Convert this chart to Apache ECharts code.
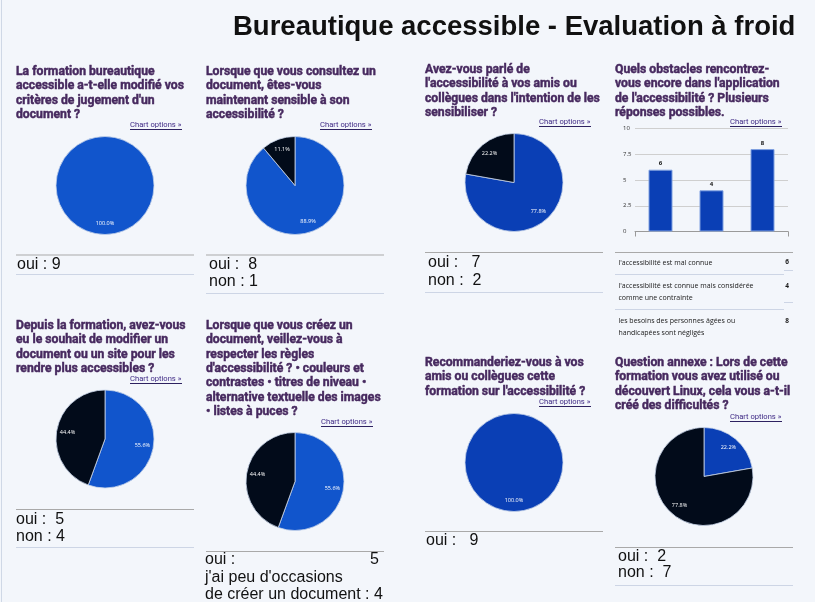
<!DOCTYPE html>
<html>
<head>
<meta charset="utf-8">
<script src="https://cdn.jsdelivr.net/npm/echarts@6/dist/echarts.min.js"></script>
<style>
  html, body { margin: 0; padding: 0; background: #f3f6fb; }
  #chart { width: 815px; height: 602px; }
</style>
</head>
<body>
<div id="chart"></div>
<script>
// ---- data ----
const pageTitle = 'Bureautique accessible - Evaluation à froid';

const questions = [
  "La formation bureautique\naccessible a-t-elle modifié vos\ncritères de jugement d'un\ndocument ?",
  "Lorsque que vous consultez un\ndocument, êtes-vous\nmaintenant sensible à son\naccessibilité ?",
  "Avez-vous parlé de\nl'accessibilité à vos amis ou\ncollègues dans l'intention de les\nsensibiliser ?",
  "Quels obstacles rencontrez-\nvous encore dans l'application\nde l'accessibilité ? Plusieurs\nréponses possibles.",
  "Depuis la formation, avez-vous\neu le souhait de modifier un\ndocument ou un site pour les\nrendre plus accessibles ?",
  "Lorsque que vous créez un\ndocument, veillez-vous à\nrespecter les règles\nd'accessibilité ? • couleurs et\ncontrastes • titres de niveau •\nalternative textuelle des images\n• listes à puces ?",
  "Recommanderiez-vous à vos\namis ou collègues cette\nformation sur l'accessibilité ?",
  "Question annexe : Lors de cette\nformation vous avez utilisé ou\ndécouvert Linux, cela vous a-t-il\ncréé des difficultés ?"
];

const ouiNon = ['oui', 'non'];
const creationNames = ['oui', "j'ai peu d'occasions\nde créer un document"];

const formationCounts = [9];
const consultCounts = [8, 1];
const parleCounts = [7, 2];
const souhaitCounts = [5, 4];
const creationCounts = [5, 4];
const recommandCounts = [9];
const linuxCounts = [2, 7];

const obstacleCategories = [
  "l'accessibilité est mal connue",
  "l'accessibilité est connue mais considérée comme une contrainte",
  "les besoins des personnes âgées ou handicapées sont négligés"
];
const obstacleCounts = [6, 4, 8];
const yTicks = [0, 2.5, 5, 7.5, 10];

// ---- layout ----
const BLUE = '#1155cc';
const BLUE_DARK = '#0a3fb5';
const BLACK = '#020b1a';
const R = 49;

const panels = [
  { q: 0, counts: formationCounts, names: ouiNon, colors: [BLUE, BLACK], center: [105, 185.5],
    qx: 16, qy: 72, link: [130, 125], rule: [16, 194, 254.5, 274], sx: 17, sy: [265], pads: [1] },
  { q: 1, counts: consultCounts, names: ouiNon, colors: [BLUE, BLACK], center: [295, 185.5],
    qx: 206, qy: 72, link: [320, 125], rule: [206, 384, 254.5, 293], sx: 209, sy: [265, 282], pads: [2, 1] },
  { q: 2, counts: parleCounts, names: ouiNon, colors: [BLUE_DARK, BLACK], center: [514, 182.5],
    qx: 425, qy: 70, link: [539, 122], rule: [425, 603, 252, 292], sx: 428, sy: [263, 281], pads: [3, 2] },
  { q: 4, counts: souhaitCounts, names: ouiNon, colors: [BLUE, BLACK], center: [105, 439],
    qx: 16, qy: 326, link: [130, 379], rule: [16, 194, 509, 547], sx: 16, sy: [520, 537], pads: [2, 1] },
  { q: 5, counts: creationCounts, names: creationNames, colors: [BLUE, BLACK], center: [295, 481.5],
    qx: 206, qy: 326, link: [321, 422], rule: [206, 384, 551, null], sx: 205, sy: [560, 578], pads: null },
  { q: 6, counts: recommandCounts, names: ouiNon, colors: [BLUE_DARK, BLACK], center: [514, 462.5],
    qx: 425, qy: 363, link: [539, 402], rule: [425, 603, 531, null], sx: 426, sy: [541], pads: [3] },
  { q: 7, counts: linuxCounts, names: ouiNon, colors: [BLUE_DARK, BLACK], center: [704, 476.5],
    qx: 615, qy: 363, link: [730, 417], rule: [615, 793, 547, 585], sx: 618, sy: [557, 573], pads: [2, 2] }
];
const barPanel = { q: 3, qx: 615, qy: 70, link: [730, 122] };

const graphics = [];
function addText(str, x, y, style) {
  graphics.push({ type: 'text', silent: true, style: Object.assign({ text: str, x: x, y: y }, style) });
}
function addLine(x1, y1, x2, y2, stroke, w) {
  graphics.push({ type: 'line', silent: true, shape: { x1: x1, y1: y1, x2: x2, y2: y2 },
    style: { stroke: stroke, lineWidth: w || 1 } });
}

const questionStyle = { fill: '#46295f', stroke: '#4a2a5e', lineWidth: 0.45, fontSize: 12.2,
  fontWeight: 'bold', fontFamily: 'Roboto', lineHeight: 14.3, verticalAlign: 'top' };
const summaryStyle = { fill: '#111', fontSize: 16, fontFamily: 'Liberation Sans', verticalAlign: 'middle' };
const linkStyle = { fill: '#3f2a85', fontSize: 7.6, fontFamily: 'Roboto', verticalAlign: 'middle' };

// title + page border
addText(pageTitle, 233, 27, { fill: '#111', fontSize: 27.5, fontWeight: 'bold',
  fontFamily: 'Liberation Sans', verticalAlign: 'middle' });
addLine(1.5, 0, 1.5, 602, '#cfd8e6', 1);

function addHeader(p) {
  addText(questions[p.q], p.qx, p.qy - 7.15, questionStyle);
  addText('Chart options »', p.link[0], p.link[1], linkStyle);
  addLine(p.link[0], p.link[1] + 4.5, p.link[0] + 52, p.link[1] + 4.5, '#2d2160', 1);
}

const series = [];
panels.forEach(function (p) {
  addHeader(p);
  const data = p.counts.map(function (v, i) {
    return { name: p.names[i], value: v, itemStyle: { color: p.colors[i] } };
  });
  series.push({
    type: 'pie', center: p.center, radius: [0, R], startAngle: 90, clockwise: true,
    silent: true, label: { show: false }, labelLine: { show: false },
    itemStyle: { borderColor: '#c9d5ea', borderWidth: 0.8 },
    data: data
  });
  series.push({
    type: 'pie', center: p.center, radius: [21, R], startAngle: 90, clockwise: true,
    silent: true, itemStyle: { color: 'transparent', borderWidth: 0 },
    label: { show: true, position: 'inside', color: '#fff', fontSize: 5.5, fontFamily: 'Open Sans',
      formatter: function (d) { return d.percent.toFixed(1) + '%'; } },
    labelLine: { show: false },
    data: p.counts.map(function (v, i) { return { name: p.names[i], value: v }; })
  });
  if (p.counts.length === 1) {
    addLine(p.center[0], p.center[1], p.center[0], p.center[1] - R, '#9db6e4', 1);
  }
  // summary block
  addLine(p.rule[0], p.rule[2] + 0.5, p.rule[1], p.rule[2] + 0.5, '#a9a9a9', 1);
  if (p.rule[3]) addLine(p.rule[0], p.rule[3] + 0.5, p.rule[1], p.rule[3] + 0.5, '#cdd5e5', 1);
  if (p.pads) {
    p.counts.forEach(function (v, i) {
      addText(p.names[i] + ' :' + ' '.repeat(p.pads[i]) + v, p.sx, p.sy[i], summaryStyle);
    });
  } else {
    addText(p.names[0] + ' :', p.sx, p.sy[0], summaryStyle);
    addText(String(p.counts[0]), 379, p.sy[0], Object.assign({ align: 'right' }, summaryStyle));
    addText(p.names[1] + ' : ' + p.counts[1], p.sx, p.sy[1],
      Object.assign({}, summaryStyle, { lineHeight: 16.5, verticalAlign: 'top', y: p.sy[1] - 8.5 }));
  }
});

// bar panel header + table
addHeader(barPanel);
const rowY = [262.5, 286, 321];
addLine(615, 252.5, 793, 252.5, '#a9a9a9', 1);
addLine(615, 274.5, 784, 274.5, '#cdd5e5', 1);
addLine(784, 270.5, 793, 270.5, '#cdd5e5', 1);
addLine(615, 309.5, 784, 309.5, '#cdd5e5', 1);
addLine(784, 302.5, 793, 302.5, '#cdd5e5', 1);
obstacleCategories.forEach(function (c, i) {
  addText(c, 618.5, rowY[i] - 6, { fill: '#1a1a1a', fontSize: 7, fontFamily: 'Open Sans',
    lineHeight: 12, verticalAlign: 'top', width: 162, overflow: 'break' });
  addText(String(obstacleCounts[i]), 787, rowY[i], { fill: '#1a1a1a', fontSize: 6.5,
    fontFamily: 'Open Sans', fontWeight: 'bold', align: 'center', verticalAlign: 'middle' });
});

series.push({
  type: 'bar', xAxisIndex: 0, yAxisIndex: 0, barWidth: 24, silent: true,
  itemStyle: { color: BLUE_DARK, borderColor: '#7fa0e0', borderWidth: 1 },
  label: { show: true, position: 'top', distance: 3, fontSize: 6, fontWeight: 'bold',
    color: '#111', fontFamily: 'Open Sans' },
  data: obstacleCounts
});

const chart = echarts.init(document.getElementById('chart'));
chart.setOption({
  animation: false,
  backgroundColor: '#f3f6fb',
  grid: { left: 635, top: 128.5, width: 153, height: 103 },
  xAxis: {
    type: 'category', data: obstacleCategories,
    axisLabel: { show: false },
    axisLine: { lineStyle: { color: '#9a9a9a' } },
    axisTick: { show: true, length: 5, lineStyle: { color: '#9a9a9a' } }
  },
  yAxis: {
    type: 'value', min: yTicks[0], max: yTicks[yTicks.length - 1], interval: yTicks[1] - yTicks[0],
    axisLabel: { fontSize: 6, color: '#333', fontFamily: 'Open Sans', align: 'left', margin: 12 },
    axisLine: { show: false }, axisTick: { show: false },
    splitLine: { lineStyle: { color: '#cfcfcf' } }
  },
  series: series,
  graphic: graphics
});
</script>
</body>
</html>
